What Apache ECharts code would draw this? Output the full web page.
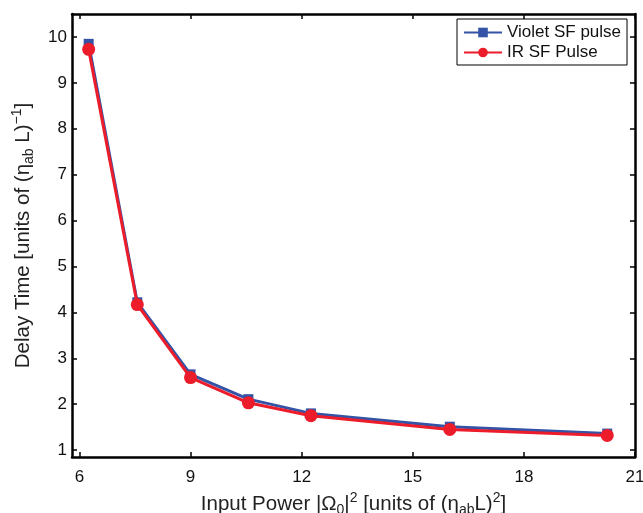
<!DOCTYPE html>
<html>
<head>
<meta charset="utf-8">
<script src="https://cdn.jsdelivr.net/npm/echarts@6/dist/echarts.min.js"></script>
<style>html,body{margin:0;padding:0;background:#fff}#c{width:643px;height:513px}</style>
</head>
<body>
<div id="c"></div>
<script>
const xValues = [6.25, 7.5625, 9, 10.5625, 12.25, 16, 20.25];
const violet = [9.85, 4.22, 2.65, 2.11, 1.80, 1.51, 1.36];
const ir = [9.73, 4.17, 2.58, 2.03, 1.75, 1.45, 1.32];
const xTicks = [6, 9, 12, 15, 18, 21];
const yTicks = [1, 2, 3, 4, 5, 6, 7, 8, 9, 10];
const seriesNames = ['Violet SF pulse', 'IR SF Pulse'];

const FONT = 'Liberation Sans';
const chart = echarts.init(document.getElementById('c'));
const pair = (xs, ys) => xs.map((x, i) => [x, ys[i]]);
const rich = {
  n: { fontFamily: FONT, fontSize: 20.5, color: '#222' },
  sub: { fontFamily: FONT, fontSize: 14, color: '#222', verticalAlign: 'bottom', padding: [12, 0, 0, 0] },
  sup: { fontFamily: FONT, fontSize: 14, color: '#222', verticalAlign: 'top', padding: [0, 0, 12, 0] }
};
const lineStyle = { color: '#000', width: 2.5 };
const baseX = {
  type: 'value', min: 5.8, max: 21,
  axisLine: { show: true, onZero: false, lineStyle },
  splitLine: { show: false }
};
const baseY = {
  type: 'value', min: 0.85, max: 10.5,
  axisLine: { show: true, onZero: false, lineStyle },
  splitLine: { show: false }
};
chart.setOption({
  animation: false,
  backgroundColor: '#fff',
  grid: { left: 72, right: 8, top: 14, bottom: 56, containLabel: false, outerBoundsMode: 'none' },
  legend: {
    left: 457, top: 19, orient: 'vertical',
    padding: [5, 6, 4, 6], itemGap: 3,
    itemWidth: 38, itemHeight: 12,
    borderColor: '#000', borderWidth: 1, backgroundColor: '#fff',
    textStyle: { fontFamily: FONT, fontSize: 17, color: '#111' },
    data: seriesNames
  },
  xAxis: [
    Object.assign({}, baseX, {
      position: 'bottom',
      name: '{n|Input Power |Ω}{sub|0}{n||}{sup|2}{n| [units of (η}{sub|ab}{n|L)}{sup|2}{n|]}',
      nameLocation: 'middle', nameGap: 31,
      nameTextStyle: { rich },
      axisTick: { show: true, inside: true, length: 5, customValues: xTicks, lineStyle: { color: '#000', width: 1.5 } },
      axisLabel: { customValues: xTicks, fontFamily: FONT, fontSize: 17, color: '#111', margin: 12 }
    }),
    Object.assign({}, baseX, {
      position: 'top',
      axisTick: { show: true, inside: true, length: 5, customValues: xTicks, lineStyle: { color: '#000', width: 1.5 } },
      axisLabel: { show: false }
    })
  ],
  yAxis: [
    Object.assign({}, baseY, {
      position: 'left',
      name: '{n|Delay Time [units of (η}{sub|ab}{n| L)}{sup|−1}{n|]}',
      nameLocation: 'middle', nameGap: 36,
      nameTextStyle: { rich },
      axisTick: { show: true, inside: true, length: 5, customValues: yTicks, lineStyle: { color: '#000', width: 1.5 } },
      axisLabel: { customValues: yTicks, fontFamily: FONT, fontSize: 17, color: '#111', margin: 5 }
    }),
    Object.assign({}, baseY, {
      position: 'right',
      axisTick: { show: true, inside: true, length: 5, customValues: yTicks, lineStyle: { color: '#000', width: 1.5 } },
      axisLabel: { show: false }
    })
  ],
  series: [
    {
      name: seriesNames[0], type: 'line', data: pair(xValues, violet),
      symbol: 'rect', symbolSize: 10,
      lineStyle: { color: '#3453a6', width: 3 },
      itemStyle: { color: '#3453a6' }, z: 2
    },
    {
      name: seriesNames[1], type: 'line', data: pair(xValues, ir),
      symbol: 'circle', symbolSize: 13,
      lineStyle: { color: '#ec1c2a', width: 3 },
      itemStyle: { color: '#ec1c2a' }, z: 3
    }
  ]
});
</script>
</body>
</html>
